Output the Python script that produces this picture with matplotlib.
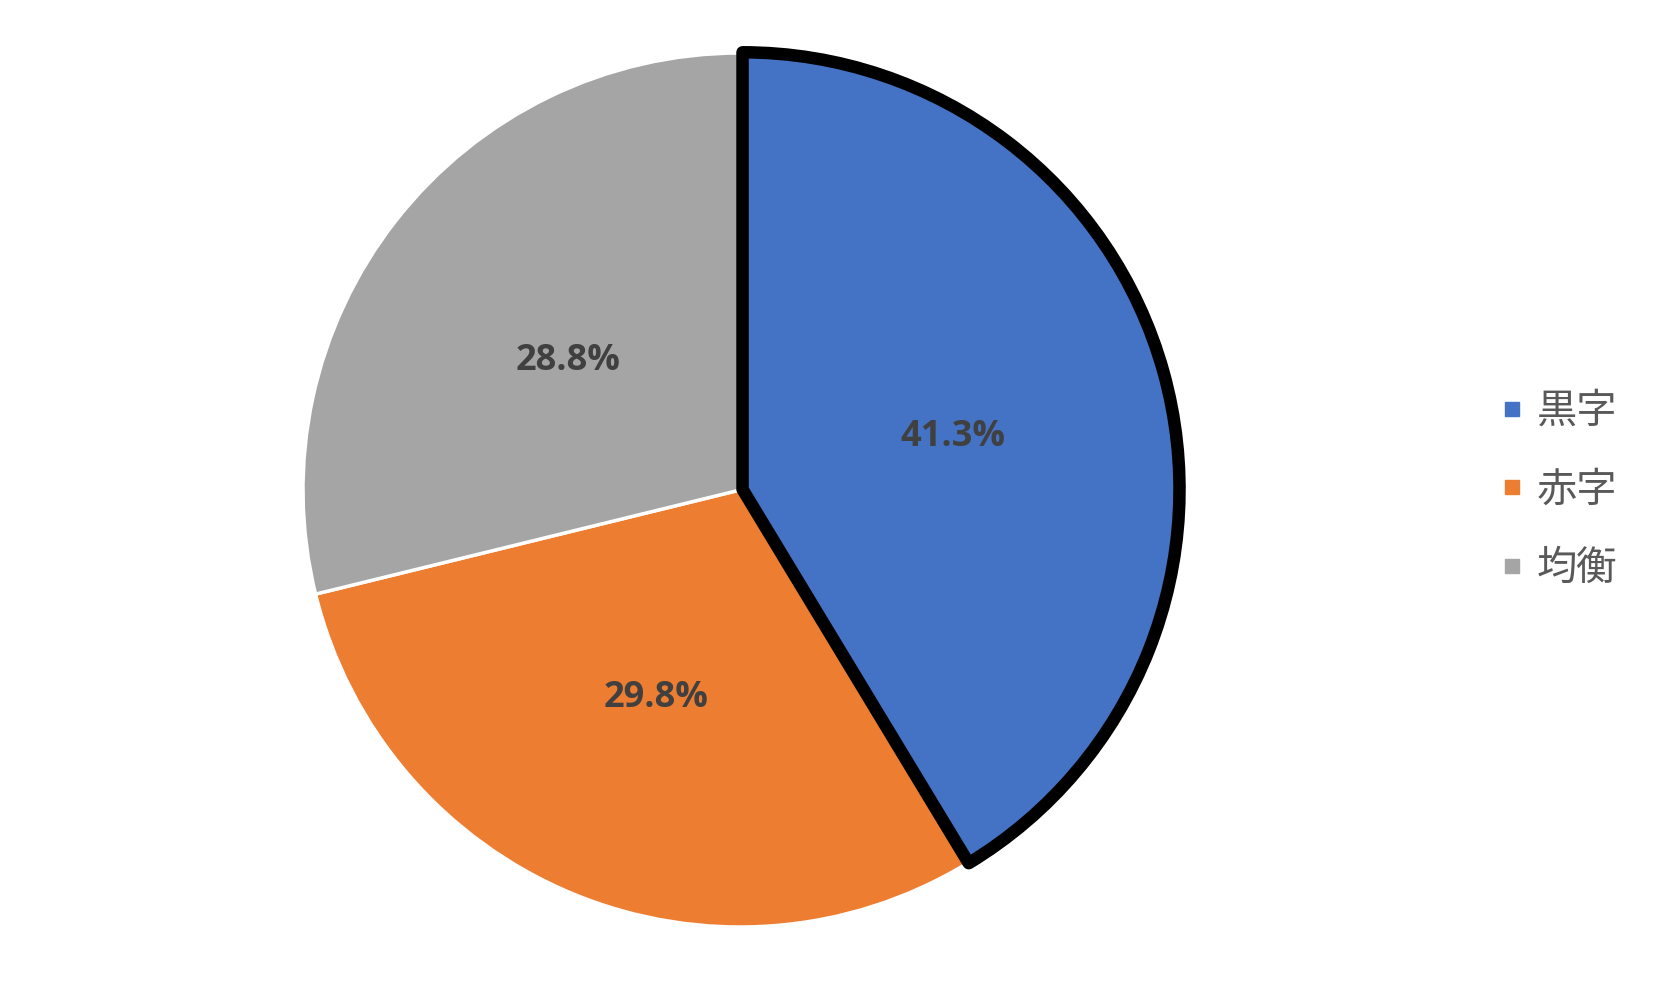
import matplotlib.pyplot as plt
from matplotlib.lines import Line2D

labels = ['黒字', '赤字', '均衡']
values = [41.3, 29.8, 28.8]
colors = ['#4472C4', '#ED7D31', '#A5A5A5']

plt.rcParams['font.family'] = ['Noto Sans CJK JP', 'DejaVu Sans']

W, H = 1665, 981
fig = plt.figure(figsize=(W / 100, H / 100), dpi=100)

# pie centre and radius in pixels
cx, cy, r = 740, 490, 437
lim = 1.06
ax = fig.add_axes([(cx - r * lim) / W, (H - cy - r * lim) / H, 2 * r * lim / W, 2 * r * lim / H])

wedges, texts, autotexts = ax.pie(values, colors=colors, startangle=90, counterclock=False,
                                  autopct='%1.1f%%', pctdistance=0.5,
                                  explode=[0.006, 0, 0],
                                  wedgeprops=dict(edgecolor='white', linewidth=2.5))
wedges[0].set_edgecolor('black')
wedges[0].set_linewidth(9)
wedges[0].set_joinstyle('round')
wedges[0].set_zorder(5)
for t in autotexts:
    t.set_fontfamily('Open Sans')
    t.set_fontweight('bold')
    t.set_fontsize(26)
    t.set_color('#404040')
    t.set_zorder(6)
    x, y = t.get_position()
    t.set_position((x, y - 0.014))

ax.set_xlim(-lim, lim)
ax.set_ylim(-lim, lim)
ax.set_aspect('equal')
ax.axis('off')

handles = [Line2D([], [], marker='s', linestyle='', markersize=10, color=c) for c in colors]
leg = fig.legend(handles, labels, loc='center left', bbox_to_anchor=(1464 / W, 1 - 490 / H),
                 frameon=False, fontsize=29, handlelength=0.6, handletextpad=0.3,
                 labelspacing=0.93)
for t in leg.get_texts():
    t.set_color('#595959')

fig.savefig('out.png', dpi=100, facecolor='white')
